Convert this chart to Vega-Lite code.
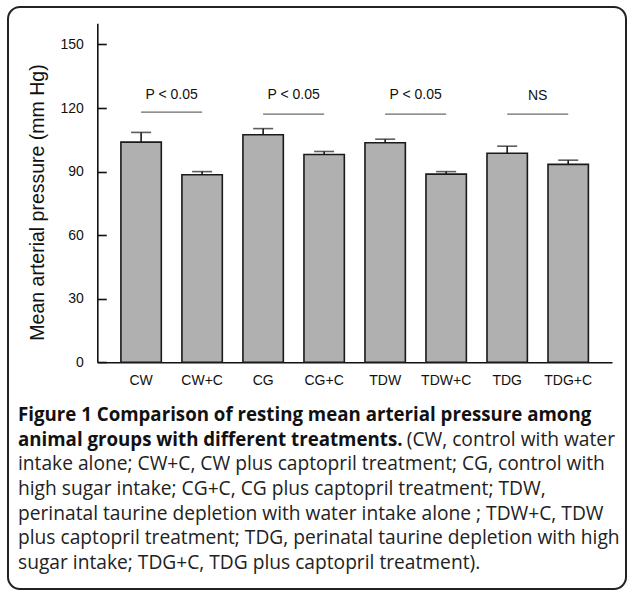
{
  "$schema": "https://vega.github.io/schema/vega-lite/v6.json",
  "width": 618,
  "height": 582,
  "autosize": {"type": "none"},
  "padding": {"left": 8, "top": 7, "right": 1, "bottom": 7},
  "background": "white",
  "config": {
    "view": {"stroke": "#222222", "strokeWidth": 2, "cornerRadius": 12},
    "font": "Liberation Sans"
  },
  "datasets": {
    "bars": [
      {"group": "CW", "mean": 103.9, "upper": 108.5},
      {"group": "CW+C", "mean": 88.5, "upper": 90.0},
      {"group": "CG", "mean": 107.4, "upper": 110.3},
      {"group": "CG+C", "mean": 98.1, "upper": 99.5},
      {"group": "TDW", "mean": 103.6, "upper": 105.3},
      {"group": "TDW+C", "mean": 88.8, "upper": 90.0},
      {"group": "TDG", "mean": 98.7, "upper": 102.0},
      {"group": "TDG+C", "mean": 93.4, "upper": 95.4}
    ],
    "sig": [
      {"g1": "CW", "g2": "CW+C", "level": 118.1, "label": "P < 0.05", "labelLevel": 126.3},
      {"g1": "CG", "g2": "CG+C", "level": 117.1, "label": "P < 0.05", "labelLevel": 126.3},
      {"g1": "TDW", "g2": "TDW+C", "level": 117.1, "label": "P < 0.05", "labelLevel": 126.3},
      {"g1": "TDG", "g2": "TDG+C", "level": 117.1, "label": "NS", "labelLevel": 125.5}
    ],
    "caption": [
      {"line": 1, "style": "bold", "text": "Figure 1 Comparison of resting mean arterial pressure among"},
      {"line": 2, "style": "bold", "text": "animal groups with different treatments."},
      {"line": 2, "style": "right", "text": "(CW, control with water"},
      {"line": 3, "style": "normal", "text": "intake alone; CW+C, CW plus captopril treatment; CG, control with"},
      {"line": 4, "style": "normal", "text": "high sugar intake; CG+C, CG plus captopril treatment; TDW,"},
      {"line": 5, "style": "normal", "text": "perinatal taurine depletion with water intake alone ; TDW+C, TDW"},
      {"line": 6, "style": "normal", "text": "plus captopril treatment; TDG, perinatal taurine depletion with high"},
      {"line": 7, "style": "normal", "text": "sugar intake; TDG+C, TDG plus captopril treatment)."}
    ]
  },
  "layer": [
    {
      "data": {"name": "bars"},
      "encoding": {
        "x": {
          "field": "group",
          "type": "nominal",
          "sort": null,
          "scale": {"range": [89.3, 604], "paddingInner": 0.338, "paddingOuter": 0.387},
          "axis": {
            "orient": "bottom",
            "offset": -226.7,
            "title": null,
            "ticks": false,
            "labelAngle": 0,
            "labelFont": "Liberation Sans",
            "labelFontSize": 14,
            "labelColor": "#111111",
            "labelPadding": 11,
            "domainColor": "#111111",
            "domainWidth": 1.6,
            "grid": false
          }
        },
        "y": {
          "field": "mean",
          "type": "quantitative",
          "scale": {"domain": [0, 160], "range": [355.3, 16.3], "nice": false},
          "axis": {
            "orient": "left",
            "offset": -89.3,
            "values": [0, 30, 60, 90, 120, 150],
            "title": "Mean arterial pressure (mm Hg)",
            "titleFont": "Liberation Sans",
            "titleFontSize": 19.5,
            "titleFontWeight": "normal",
            "titleColor": "#111111",
            "titlePadding": 12,
            "titleY": 195,
            "tickSize": -9,
            "tickWidth": 1.6,
            "tickColor": "#111111",
            "labelFont": "Liberation Sans",
            "labelFontSize": 14,
            "labelColor": "#111111",
            "labelPadding": 23,
            "domainColor": "#111111",
            "domainWidth": 1.6,
            "grid": false
          }
        }
      },
      "layer": [
        {"mark": {"type": "bar", "fill": "#b0b0b0", "stroke": "#1a1a1a", "strokeWidth": 1.6}},
        {
          "mark": {"type": "rule", "stroke": "#1a1a1a", "strokeWidth": 1.6},
          "encoding": {"y": {"field": "mean", "type": "quantitative"}, "y2": {"field": "upper"}}
        },
        {
          "mark": {"type": "tick", "color": "#1a1a1a", "thickness": 1.6, "size": 20, "orient": "horizontal"},
          "encoding": {"y": {"field": "upper", "type": "quantitative"}}
        },
        {
          "data": {"name": "sig"},
          "mark": {"type": "rule", "stroke": "#6a6a6a", "strokeWidth": 1.2},
          "encoding": {
            "x": {"field": "g1", "type": "nominal", "bandPosition": 0.5},
            "x2": {"field": "g2", "bandPosition": 0.5},
            "y": {"field": "level", "type": "quantitative"}
          }
        },
        {
          "data": {"name": "sig"},
          "mark": {"type": "text", "font": "Liberation Sans", "fontSize": 14, "color": "#111111", "dx": 30.5, "baseline": "middle"},
          "encoding": {
            "x": {"field": "g1", "type": "nominal", "bandPosition": 0.5},
            "y": {"field": "labelLevel", "type": "quantitative"},
            "text": {"field": "label"}
          }
        }
      ]
    },
    {
      "data": {"name": "caption"},
      "encoding": {
        "y": {
          "field": "line",
          "type": "quantitative",
          "scale": {"domain": [1, 7], "range": [408, 556]},
          "axis": null
        }
      },
      "layer": [
        {
          "transform": [{"filter": "datum.style === 'bold'"}],
          "mark": {"type": "text", "font": "Open Sans", "fontSize": 18.7, "fontWeight": "bold", "align": "left", "baseline": "middle", "color": "#111111"},
          "encoding": {
            "x": {"datum": 0, "type": "quantitative", "scale": {"domain": [0, 1], "range": [10, 607]}, "axis": null},
            "text": {"field": "text"}
          }
        },
        {
          "transform": [{"filter": "datum.style === 'normal'"}],
          "mark": {"type": "text", "font": "Open Sans", "fontSize": 19.2, "align": "left", "baseline": "middle", "color": "#222222"},
          "encoding": {
            "x": {"datum": 0, "type": "quantitative"},
            "text": {"field": "text"}
          }
        },
        {
          "transform": [{"filter": "datum.style === 'right'"}],
          "mark": {"type": "text", "font": "Open Sans", "fontSize": 19.2, "align": "right", "baseline": "middle", "color": "#222222"},
          "encoding": {
            "x": {"datum": 1, "type": "quantitative"},
            "text": {"field": "text"}
          }
        }
      ]
    }
  ],
  "resolve": {"scale": {"x": "independent", "y": "independent"}}
}
